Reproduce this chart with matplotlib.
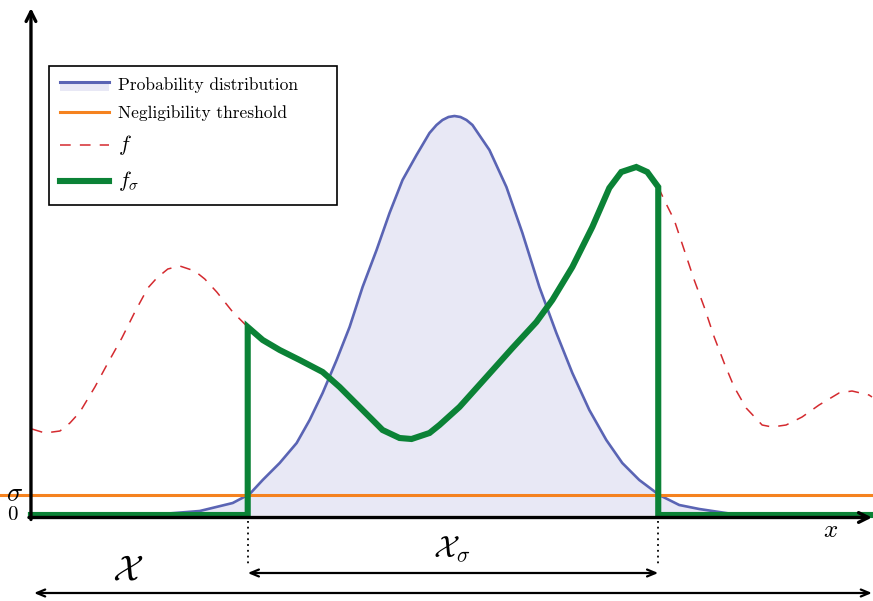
import numpy as np
import matplotlib
matplotlib.use("Agg")
import matplotlib.pyplot as plt
from matplotlib.lines import Line2D
from matplotlib.patches import Rectangle
from matplotlib.legend_handler import HandlerBase

plt.rcParams["mathtext.fontset"] = "cm"
plt.rcParams["font.family"] = "serif"
plt.rcParams["font.serif"] = ["cmr10", "DejaVu Serif"]
plt.rcParams["axes.unicode_minus"] = False

# --------------------------------------------------------------------------- #
# curves (x along the domain, y above the zero line)
# --------------------------------------------------------------------------- #
pdf_x = [0.00, 1.19, 1.69, 2.02, 2.19, 2.32, 2.49, 2.66, 2.79, 2.92, 3.06, 3.19,
         3.32, 3.46, 3.59, 3.72, 3.86, 3.99, 4.06, 4.12, 4.18, 4.24, 4.30, 4.36,
         4.42, 4.59, 4.76, 4.92, 5.09, 5.26, 5.42, 5.59, 5.76, 5.92, 6.09, 6.29,
         6.49, 6.69, 7.09, 8.42]
pdf_y = [0.00, 0.00, 0.04, 0.12, 0.21, 0.35, 0.52, 0.72, 0.95, 1.22, 1.55, 1.88,
         2.28, 2.65, 3.02, 3.35, 3.60, 3.82, 3.90, 3.95, 3.98, 3.99, 3.98, 3.95,
         3.90, 3.65, 3.28, 2.82, 2.28, 1.82, 1.42, 1.05, 0.75, 0.52, 0.35, 0.20,
         0.10, 0.06, 0.00, 0.00]

f_x = [0.01, 0.14, 0.29, 0.39, 0.49, 0.64, 0.77, 0.91, 1.04, 1.17, 1.26, 1.37,
       1.49, 1.64, 1.74, 1.86, 2.02, 2.12, 2.17, 2.32, 2.49, 2.69, 2.92, 3.09,
       3.32, 3.52, 3.69, 3.81, 3.99, 4.09, 4.29, 4.56, 4.82, 5.06, 5.22, 5.42,
       5.62, 5.79, 5.91, 6.06, 6.17, 6.28, 6.34, 6.44, 6.54, 6.64, 6.74, 6.84,
       6.94, 7.04, 7.16, 7.32, 7.42, 7.56, 7.72, 7.89, 8.09, 8.22, 8.39, 8.42]
f_y = [0.86, 0.82, 0.84, 0.92, 1.03, 1.28, 1.52, 1.77, 2.03, 2.27, 2.37, 2.46,
       2.49, 2.44, 2.36, 2.23, 2.03, 1.93, 1.88, 1.75, 1.65, 1.55, 1.43, 1.28,
       1.05, 0.85, 0.77, 0.76, 0.82, 0.90, 1.08, 1.38, 1.67, 1.93, 2.15, 2.48,
       2.88, 3.27, 3.43, 3.48, 3.43, 3.28, 3.15, 2.95, 2.65, 2.35, 2.08, 1.78,
       1.52, 1.28, 1.07, 0.90, 0.88, 0.90, 0.98, 1.10, 1.22, 1.24, 1.20, 1.18]

SIGMA = 0.20                  # negligibility threshold
X_LO, X_HI = 2.17, 6.28       # where the pdf crosses sigma
X_END = 8.42

C_PDF = "#5a64b4"
C_FILL = "#e8e8f5"
C_THR = "#f5821f"
C_F = "#d42a2f"
C_FS = "#0b8236"


class ShadedLine(HandlerBase):
    """legend key: line on top of a shaded band"""
    def create_artists(self, legend, orig_handle, xdescent, ydescent,
                       width, height, fontsize, trans):
        y_top = 0.7 * height - ydescent
        band = Rectangle((-xdescent, y_top - 0.8 * height), width, 0.8 * height,
                         facecolor=C_FILL, edgecolor="none", transform=trans)
        line = Line2D([-xdescent, width - xdescent], [y_top, y_top],
                      color=C_PDF, lw=2.2, transform=trans)
        return [band, line]


fig = plt.figure(figsize=(8.73, 6.01), dpi=100)
ax = fig.add_axes([0, 0, 1, 1])
ax.set_xlim(-0.31, 8.42 + 0.01)
ax.set_ylim(-0.86, 5.15)
ax.axis("off")

fx = np.array(f_x)
fy = np.array(f_y)
inside = (fx >= X_LO) & (fx <= X_HI)
fs_x = np.r_[0.0, X_LO, fx[inside], X_HI, X_END]
fs_y = np.r_[0.0, 0.0, fy[inside], 0.0, 0.0]

ax.fill_between(pdf_x, 0, pdf_y, color=C_FILL, lw=0, zorder=1)
ax.plot(pdf_x, pdf_y, color=C_PDF, lw=1.9, zorder=2)
ax.axhline(SIGMA, color=C_THR, lw=2.2, zorder=3)
ax.plot(fx[fx <= X_LO], fy[fx <= X_LO], color=C_F, lw=1.1, dashes=(7, 6), zorder=3)
ax.plot(fx[fx >= X_HI], fy[fx >= X_HI], color=C_F, lw=1.1, dashes=(7, 6), zorder=3)
ax.plot(fs_x, fs_y, color=C_FS, lw=4.4, solid_joinstyle="miter", zorder=4)

# axes with arrow heads
ax_kw = dict(arrowstyle="->,head_length=0.7,head_width=0.35", lw=2.4, color="black",
             shrinkA=0, shrinkB=0)
ax.annotate("", xy=(0, 5.07), xytext=(0, -0.045), arrowprops=ax_kw, zorder=6)
ax.annotate("", xy=(X_END, -0.025), xytext=(-0.02, -0.025), arrowprops=ax_kw, zorder=6)

# domain arrows below the axis
dom_kw = dict(arrowstyle="<->,head_length=0.6,head_width=0.25", lw=1.6, color="black",
              shrinkA=0, shrinkB=0)
for xv in (X_LO, X_HI):
    ax.plot([xv, xv], [-0.06, -0.49], color="black", lw=1.3, ls=(0, (1, 2.2)))
ax.annotate("", xy=(X_HI, -0.58), xytext=(X_LO, -0.58), arrowprops=dom_kw)
ax.annotate("", xy=(X_END, -0.78), xytext=(0.03, -0.78), arrowprops=dom_kw)

ax.text(-0.16, SIGMA + 0.01, r"$\sigma$", fontsize=19, ha="center", va="center")
ax.text(-0.18, 0.0, r"$0$", fontsize=15, ha="center", va="center")
ax.text(8.01, -0.16, r"$x$", fontsize=18, ha="center", va="center")
ax.text(4.21, -0.34, r"$\mathcal{X}_\sigma$", fontsize=22, ha="center", va="center")
ax.text(0.97, -0.56, r"$\mathcal{X}$", fontsize=26, ha="center", va="center")

handles = [object(),
           Line2D([], [], color=C_THR, lw=2.2),
           Line2D([], [], color=C_F, lw=1.1, dashes=(7, 6)),
           Line2D([], [], color=C_FS, lw=4.4)]
labels = ["Probability distribution", "Negligibility threshold", r"$f$", r"$f_\sigma$"]
leg = ax.legend(handles, labels, handler_map={object: ShadedLine()},
                loc="upper left", mode="expand",
                bbox_to_anchor=(49 / 873, 1 - 66 / 601, 288 / 873, 0.0),
                bbox_transform=fig.transFigure, borderaxespad=0,
                fontsize=12.5, handlelength=2.8, handletextpad=0.5,
                labelspacing=0.7, borderpad=0.65, fancybox=False, framealpha=1)
for t in leg.get_texts()[2:]:
    t.set_fontsize(15.5)
leg.get_frame().set_edgecolor("black")
leg.get_frame().set_linewidth(1.2)

fig.savefig("out.png", dpi=100)
